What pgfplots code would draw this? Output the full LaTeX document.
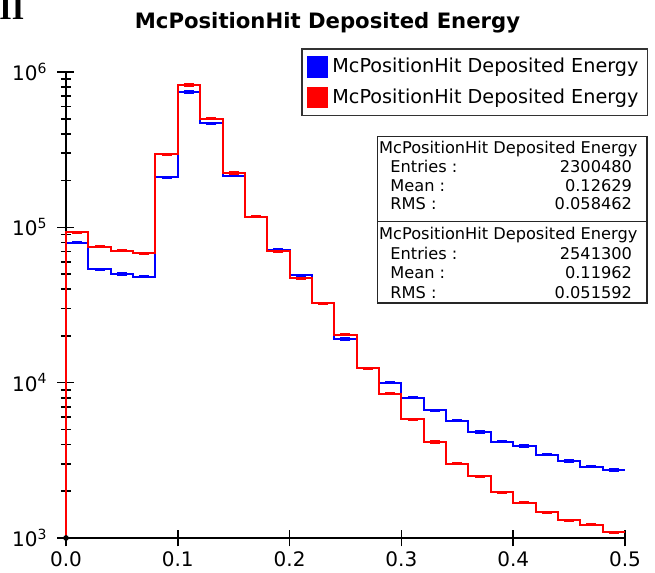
\documentclass[border=0pt]{standalone}
\usepackage{pgfplots}
\pgfplotsset{compat=1.18}
\usepackage{pgfplotstable}
\usepackage{fontspec}
\setmainfont{DejaVu Sans}
\newfontfamily\romanbold{Liberation Serif}[BoldFont={Liberation Serif Bold}]

% bin left edge, counts (first row opens the histogram at x=0, last row closes it)
\pgfplotstableread{
x     blue    red
0.00  1000    1000
0.00  79600   93000
0.02  53600   75000
0.04  50000   70700
0.06  48100   68000
0.08  210000  295000
0.10  743000  825000
0.12  468000  500000
0.14  215000  224000
0.16  117000  117000
0.18  71900   70200
0.20  49000   47100
0.22  32400   32400
0.24  19100   20300
0.26  12400   12400
0.28  9980    8470
0.30  7980    5820
0.32  6620    4150
0.34  5680    3000
0.36  4810    2490
0.38  4170    1970
0.40  3910    1690
0.42  3430    1460
0.44  3130    1300
0.46  2880    1220
0.48  2740    1090
0.50  2740    1090
}\edep

\newcommand\statfont{\fontsize{8.1}{9}\selectfont}

\begin{document}
\begin{tikzpicture}
\useasboundingbox (0,0) rectangle (327.5pt,286.5pt);
\node[anchor=base west, inner sep=0, font=\romanbold\bfseries\fontsize{16}{16}\selectfont] at (-0.5pt,276.8pt) {II};
\node[anchor=base, inner sep=0, font=\bfseries\fontsize{10.6}{12}\selectfont] at (163.75pt,272.4pt) {McPositionHit Deposited Energy};
\begin{axis}[
    at={(33pt,17.5pt)}, anchor=south west,
    scale only axis, width=279.5pt, height=233pt,
    xmin=0, xmax=0.5, ymin=1000, ymax=1000000,
    ymode=log, clip=false,
    axis x line=bottom, axis y line=left,
    axis line style={-, line width=0.8pt},
    tick align=center,
    major tick length=8.5pt, minor tick length=5pt,
    tick style={black, line width=0.8pt},
    xtick={0,0.1,0.2,0.3,0.4,0.5},
    xticklabels={0.0,0.1,0.2,0.3,0.4,0.5},
    ytick={1000,10000,100000,1000000},
    yticklabels={10\textsuperscript{3},10\textsuperscript{4},10\textsuperscript{5},10\textsuperscript{6}},
    tick label style={font=\fontsize{10}{11}\selectfont},
    xticklabel style={yshift=0.8pt},
    yticklabel style={xshift=-1.5pt},
    legend style={at={(1.0415,1.0505)}, anchor=north east, draw=black!80,
        line width=0.8pt, font=\fontsize{9.6}{11}\selectfont,
        inner xsep=2.5pt, inner ysep=2.5pt, row sep=2.5pt},
    legend cell align=left,
    legend image code/.code={\fill[#1,draw=none] (0pt,-5.3pt) rectangle (10.8pt,5.5pt);},
]
\addplot[blue, line width=1pt, const plot mark left, no marks] table[x=x, y=blue]{\edep};
\addlegendentry{McPositionHit Deposited Energy}
\addplot[red, line width=1pt, const plot mark left, no marks] table[x=x, y=red]{\edep};
\addlegendentry{McPositionHit Deposited Energy}
\addplot[blue, only marks, mark=-, mark size=2.5pt, mark options={line width=1.6pt},
    skip coords between index={0}{1}, skip coords between index={26}{27}, forget plot]
    table[x expr=\thisrow{x}+0.01, y=blue]{\edep};
\addplot[red, only marks, mark=-, mark size=2.5pt, mark options={line width=1.6pt},
    skip coords between index={0}{1}, skip coords between index={26}{27}, forget plot]
    table[x expr=\thisrow{x}+0.01, y=red]{\edep};
\addplot[black, only marks, mark=*, mark size=1.2pt, forget plot] coordinates {(0,1000)};
\end{axis}
% statistics box
\draw[black!85, line width=0.8pt] (188.65pt,134.85pt) rectangle (323.35pt,218.15pt);
\draw[black!85, line width=0.8pt] (188.65pt,175.65pt) -- (323.35pt,175.65pt);
\begin{scope}[every node/.style={inner sep=0, font=\statfont}]
\node[anchor=base west] at (189.4pt,209.85pt) {McPositionHit Deposited Energy};
\node[anchor=base west] at (195pt,200.35pt) {Entries :};
\node[anchor=base east] at (316.2pt,200.35pt) {2300480};
\node[anchor=base west] at (195pt,190.65pt) {Mean :};
\node[anchor=base east] at (316.2pt,190.65pt) {0.12629};
\node[anchor=base west] at (195pt,181.5pt) {RMS :};
\node[anchor=base east] at (316.2pt,181.5pt) {0.058462};
\node[anchor=base west] at (189.4pt,166.5pt) {McPositionHit Deposited Energy};
\node[anchor=base west] at (195pt,156.5pt) {Entries :};
\node[anchor=base east] at (316.2pt,156.5pt) {2541300};
\node[anchor=base west] at (195pt,147pt) {Mean :};
\node[anchor=base east] at (316.2pt,147pt) {0.11962};
\node[anchor=base west] at (195pt,137.35pt) {RMS :};
\node[anchor=base east] at (316.2pt,137.35pt) {0.051592};
\end{scope}
\end{tikzpicture}
\end{document}
